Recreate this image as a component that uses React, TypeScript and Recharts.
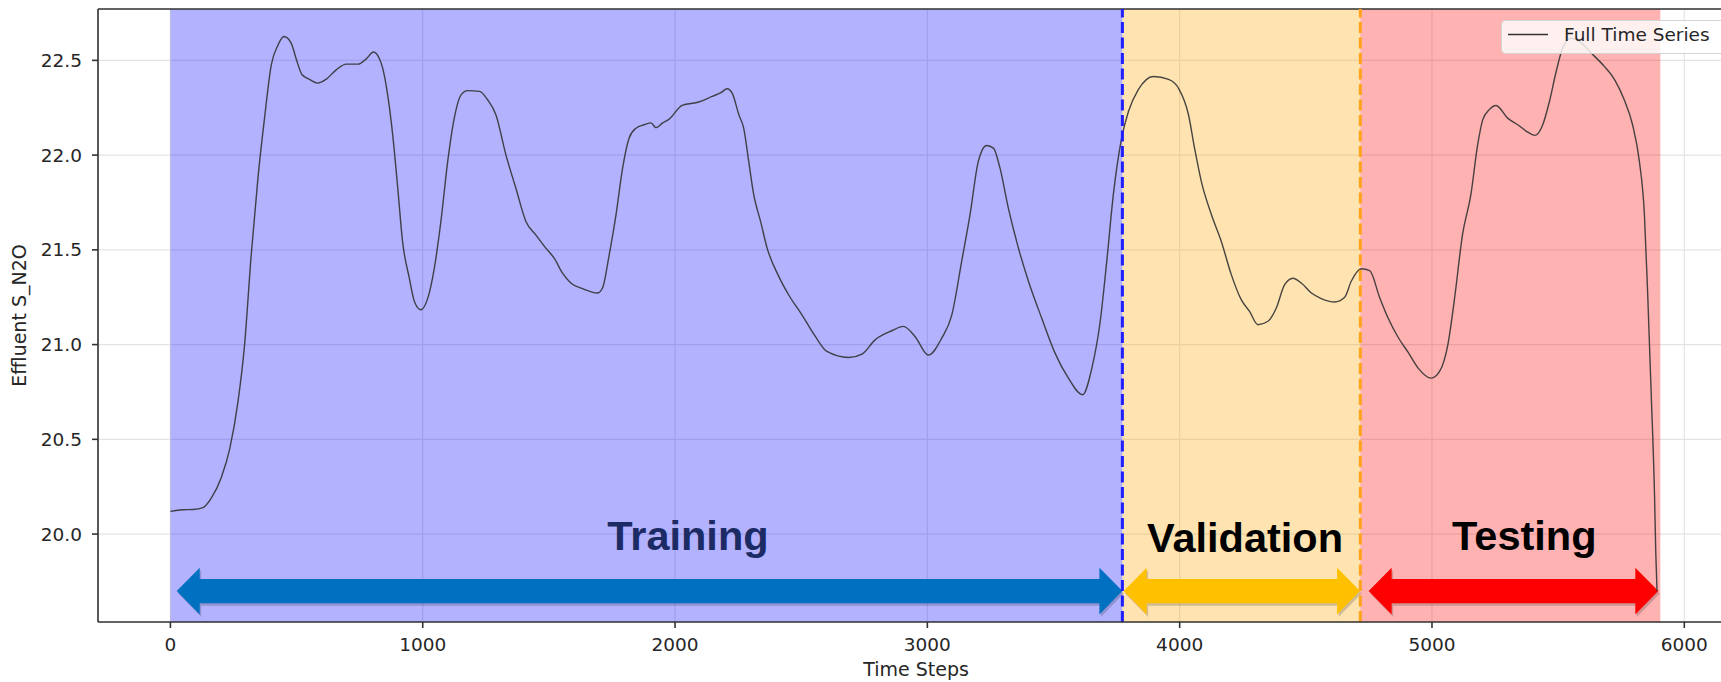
import {
  LineChart,
  Line,
  XAxis,
  YAxis,
  CartesianGrid,
  ReferenceArea,
  ReferenceLine,
  ReferenceDot,
  Legend,
  Label,
} from 'recharts';

// time step index and Effluent S_N2O values
const timeSteps = [
  0, 50, 89, 129, 162, 202, 235, 268, 294, 320, 347, 373, 400, 426, 450, 479, 498, 522, 551, 584,
  617, 657, 697, 743, 776, 805, 828, 841, 861, 881, 901, 920, 947, 967, 993, 1020, 1046, 1072, 1099, 1125,
  1152, 1178, 1225, 1257, 1290, 1330, 1369, 1409, 1448, 1488, 1521, 1554, 1587, 1633, 1693, 1713, 1739, 1766, 1792, 1818,
  1845, 1878, 1905, 1924, 1951, 1977, 2028, 2094, 2147, 2180, 2207, 2226, 2253, 2272, 2292, 2312, 2339, 2365, 2411, 2450,
  2503, 2556, 2602, 2688, 2741, 2793, 2859, 2905, 2951, 3004, 3057, 3097, 3136, 3169, 3202, 3235, 3262, 3288, 3321, 3361,
  3401, 3453, 3506, 3559, 3615, 3652, 3685, 3711, 3737, 3770, 3797, 3836, 3896, 3956, 3995, 4035, 4059, 4086, 4126, 4165,
  4205, 4244, 4277, 4310, 4350, 4383, 4416, 4449, 4482, 4522, 4561, 4614, 4654, 4680, 4720, 4753, 4793, 4826, 4865, 4905,
  4945, 4997, 5030, 5063, 5088, 5121, 5154, 5181, 5201, 5227, 5254, 5300, 5340, 5380, 5409, 5439, 5465, 5492, 5518, 5551,
  5584, 5630, 5683, 5723, 5762, 5795, 5822, 5842, 5855, 5869, 5882, 5887, 5892,
];

const effluentN2O = [
  20.12, 20.128, 20.13, 20.14, 20.19, 20.3, 20.45, 20.7, 21.0, 21.47, 21.88, 22.195, 22.477, 22.58, 22.626, 22.59, 22.51, 22.424, 22.4, 22.38,
  22.4, 22.45, 22.48, 22.48, 22.508, 22.544, 22.51, 22.46, 22.318, 22.107, 21.826, 21.545, 21.35, 21.228, 21.184, 21.245, 21.404, 21.65, 21.967, 22.195,
  22.318, 22.34, 22.336, 22.292, 22.213, 22.0, 21.826, 21.65, 21.579, 21.509, 21.456, 21.377, 21.325, 21.295, 21.272, 21.3, 21.474, 21.685, 21.93, 22.09,
  22.142, 22.16, 22.17, 22.145, 22.17, 22.19, 22.262, 22.28, 22.31, 22.328, 22.35, 22.328, 22.213, 22.142, 21.967, 21.79, 21.65, 21.509, 21.36, 21.263,
  21.157, 21.043, 20.964, 20.932, 20.95, 21.025, 21.073, 21.096, 21.043, 20.945, 21.034, 21.157, 21.439, 21.685, 21.967, 22.051, 22.037, 21.931, 21.72, 21.509,
  21.333, 21.14, 20.955, 20.823, 20.735, 20.876, 21.122, 21.439, 21.79, 22.09, 22.23, 22.345, 22.415, 22.4, 22.354, 22.213, 22.037, 21.86, 21.685, 21.544,
  21.368, 21.237, 21.175, 21.105, 21.123, 21.193, 21.316, 21.35, 21.325, 21.272, 21.243, 21.225, 21.25, 21.334, 21.4, 21.39, 21.247, 21.14, 21.04, 20.96,
  20.876, 20.823, 20.858, 21.0, 21.228, 21.58, 21.79, 22.054, 22.186, 22.24, 22.262, 22.195, 22.16, 22.121, 22.104, 22.16, 22.28, 22.44, 22.565, 22.617,
  22.6, 22.54, 22.468, 22.4, 22.292, 22.16, 21.967, 21.685, 21.263, 20.735, 20.207, 19.9, 19.7,
];

// split boundaries (time steps)
const splitNames = ['Training', 'Validation', 'Testing'];
const splitStart = [0, 3773, 4716];
const splitEnd = [3773, 4716, 5905];
const splitFill = ['#0000ff', '#ffa500', '#ff0000'];

// dashed lines at the split boundaries
const boundaryAt = [3773, 4716];
const boundaryColor = ['#1f1fff', '#ffa31a'];

// double arrows under each split
const arrowStart = [25, 3778, 4749];
const arrowEnd = [3773, 4715, 5897];
const arrowColor = ['#0070c0', '#ffc000', '#ff0000'];
const arrowLow = 19.576;
const arrowHigh = 19.822;

// split label positions (x: time step, y: baseline value)
const labelX = [2051, 4259, 5366];
const labelY = [19.916, 19.905, 19.918];
const labelColor = ['#1c2b64', '#000000', '#000000'];

const xTicks = [0, 1000, 2000, 3000, 4000, 5000, 6000];
const yTicks = [20.0, 20.5, 21.0, 21.5, 22.0, 22.5];
const xDomain = [-287, 6197];
const yDomain = [19.536, 22.771];

const series = timeSteps.map((t, i) => ({ t, v: effluentN2O[i] }));

const FONT = 'DejaVu Sans, sans-serif';
const AXIS = '#333333';

function DoubleArrow(props: any) {
  const { x, y, width, height, color } = props;
  const cy = y + height / 2;
  const s = height * 0.26;
  const L = 23;
  const pts = [
    [x, cy],
    [x + L, y],
    [x + L, cy - s],
    [x + width - L, cy - s],
    [x + width - L, y],
    [x + width, cy],
    [x + width - L, y + height],
    [x + width - L, cy + s],
    [x + L, cy + s],
    [x + L, y + height],
  ]
    .map((p) => p.join(','))
    .join(' ');
  return (
    <g>
      <polygon points={pts} fill="#000" fillOpacity={0.18} transform="translate(1.5,2.5)" />
      <polygon points={pts} fill={color} />
    </g>
  );
}

function SplitLabel(props: any) {
  const { cx, cy, text, color } = props;
  return (
    <text
      x={cx}
      y={cy}
      textAnchor="middle"
      fill={color}
      fontFamily="Liberation Sans, Arial, sans-serif"
      fontWeight="bold"
      fontSize={41.5}
    >
      {text}
    </text>
  );
}

function LegendBox() {
  return (
    <svg width={240} height={34} style={{ display: 'block' }}>
      <rect x={0.5} y={0.5} width={238} height={33} rx={4} fill="#ffffff" fillOpacity={0.8} stroke="#d4d4d4" />
      <line x1={7} x2={47} y1={14.5} y2={14.5} stroke="#333" strokeWidth={1.3} />
      <text x={63} y={21} fontFamily={FONT} fontSize={18.5} fill="#262626">
        Full Time Series
      </text>
    </svg>
  );
}

export default function App() {
  return (
    <div
      style={{
        position: 'fixed',
        left: 0,
        top: 0,
        width: 1721,
        height: 682,
        overflow: 'hidden',
        background: '#fff',
      }}
    >
      <LineChart width={1745} height={682} data={series} margin={{ top: 9, right: 11, bottom: 0, left: 0 }}>
        <CartesianGrid stroke="#e4e4e4" strokeWidth={1.2} />
        <XAxis
          dataKey="t"
          type="number"
          domain={xDomain}
          ticks={xTicks}
          interval={0}
          allowDataOverflow
          height={60}
          stroke={AXIS}
          strokeWidth={1.6}
          tickSize={6}
          tickMargin={10}
          tick={{ fill: '#262626', fontSize: 18.5, fontFamily: FONT }}
        >
          <Label
            content={(p: any) => {
              const vb = p.viewBox;
              return (
                <text x={vb.x + vb.width / 2} y={676} textAnchor="middle" fontFamily={FONT} fontSize={19} fill="#262626">
                  Time Steps
                </text>
              );
            }}
          />
        </XAxis>
        <YAxis
          type="number"
          domain={yDomain}
          ticks={yTicks}
          interval={0}
          allowDataOverflow
          width={98}
          stroke={AXIS}
          strokeWidth={1.6}
          tickSize={6}
          tickMargin={10}
          tickFormatter={(v: number) => v.toFixed(1)}
          tick={{ fill: '#262626', fontSize: 18.5, fontFamily: FONT }}
        >
          <Label
            content={(p: any) => {
              const vb = p.viewBox;
              const cy = vb.y + vb.height / 2;
              return (
                <text
                  x={18.5}
                  y={cy}
                  transform={`rotate(-90, 18.5, ${cy})`}
                  textAnchor="middle"
                  dominantBaseline="central"
                  fontFamily={FONT}
                  fontSize={19}
                  fill="#262626"
                >
                  Effluent S_N2O
                </text>
              );
            }}
          />
        </YAxis>

        {splitNames.map((name, i) => (
          <ReferenceArea
            key={name}
            x1={splitStart[i]}
            x2={splitEnd[i]}
            fill={splitFill[i]}
            fillOpacity={0.3}
            stroke="none"
          />
        ))}

        <ReferenceLine y={yDomain[1]} stroke={AXIS} strokeWidth={1.6} />

        <Line
          type="monotone"
          dataKey="v"
          name="Full Time Series"
          stroke="#333"
          strokeWidth={1.4}
          strokeOpacity={0.9}
          dot={false}
          isAnimationActive={false}
        />

        {boundaryAt.map((b, i) => (
          <ReferenceLine key={b} x={b} stroke={boundaryColor[i]} strokeWidth={3} strokeDasharray="11 4.5" />
        ))}

        {arrowStart.map((a, i) => (
          <ReferenceArea
            key={'arrow' + a}
            x1={a}
            x2={arrowEnd[i]}
            y1={arrowLow}
            y2={arrowHigh}
            shape={(p: any) => <DoubleArrow {...p} color={arrowColor[i]} />}
          />
        ))}

        {splitNames.map((name, i) => (
          <ReferenceDot
            key={'lbl' + name}
            x={labelX[i]}
            y={labelY[i]}
            shape={(p: any) => <SplitLabel {...p} text={name} color={labelColor[i]} />}
          />
        ))}

        <Legend
          layout="horizontal"
          verticalAlign="middle"
          align="center"
          wrapperStyle={{ left: 1501, top: 19.5, width: 240, height: 34 }}
          content={() => <LegendBox />}
        />
      </LineChart>
    </div>
  );
}
